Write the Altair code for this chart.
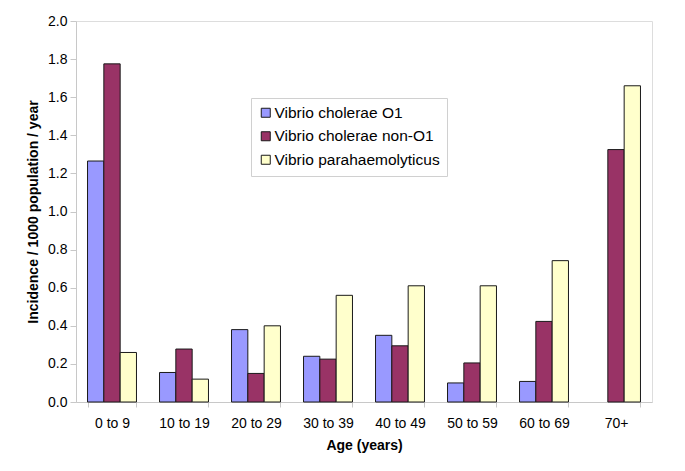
import altair as alt
import pandas as pd

ages = ["0 to 9", "10 to 19", "20 to 29", "30 to 39", "40 to 49", "50 to 59", "60 to 69", "70+"]
series = ["Vibrio cholerae O1", "Vibrio cholerae non-O1", "Vibrio parahaemolyticus"]
o1 = [1.265, 0.155, 0.38, 0.24, 0.35, 0.10, 0.108, None]
non_o1 = [1.775, 0.278, 0.15, 0.225, 0.295, 0.205, 0.423, 1.325]
para = [0.26, 0.12, 0.40, 0.56, 0.61, 0.61, 0.742, 1.66]
colors = ["#9999FF", "#993366", "#FFFFCC"]
y_ticks = [0.0, 0.2, 0.4, 0.6, 0.8, 1.0, 1.2, 1.4, 1.6, 1.8, 2.0]

rows = []
for name, vals in zip(series, [o1, non_o1, para]):
    for a, v in zip(ages, vals):
        if v is not None:
            rows.append({"Age": a, "Series": name, "Value": v})
df = pd.DataFrame(rows)

FONT = "Liberation Sans"

chart = alt.Chart(df).mark_bar(stroke="#1a1a1a", strokeWidth=1).encode(
    x=alt.X("Age:N", sort=ages,
            scale=alt.Scale(domain=ages, paddingInner=0.32, paddingOuter=0.16),
            axis=alt.Axis(title="Age (years)", labelAngle=0, tickBand="extent",
                          labelFontSize=14, labelPadding=9, titleFontSize=14,
                          titlePadding=8, titleFontWeight="bold",
                          domainColor="#c8c8c8", tickColor="#c8c8c8", tickSize=5,
                          labelColor="#000000", titleColor="#000000")),
    xOffset=alt.XOffset("Series:N", sort=series, scale=alt.Scale(domain=series)),
    y=alt.Y("Value:Q",
            scale=alt.Scale(domain=[0, 2.0], nice=False),
            axis=alt.Axis(title="Incidence / 1000 population / year", values=y_ticks,
                          format=".1f", grid=False, labelFontSize=14, titleFontSize=14,
                          titleFontWeight="bold", titlePadding=7, labelPadding=3,
                          domainColor="#c8c8c8", tickColor="#c8c8c8", tickSize=6,
                          labelColor="#000000", titleColor="#000000")),
    color=alt.Color("Series:N", sort=series,
                    scale=alt.Scale(domain=series, range=colors),
                    legend=alt.Legend(title=None, orient="none", legendX=175, legendY=77,
                                      labelFontSize=15.5, labelLimit=400, symbolType="square",
                                      symbolSize=81, symbolStrokeColor="#1a1a1a",
                                      symbolStrokeWidth=1, rowPadding=6.5, labelOffset=1,
                                      strokeColor="#d0d0d0", fillColor="white",
                                      padding=7, labelColor="#000000")),
).properties(width=576, height=381, padding={"left": 18, "top": 6, "right": 5, "bottom": 5}).configure_view(
    stroke=None
).configure(font=FONT)

chart.save("out.html", embed_options={"renderer": "svg", "actions": False})
